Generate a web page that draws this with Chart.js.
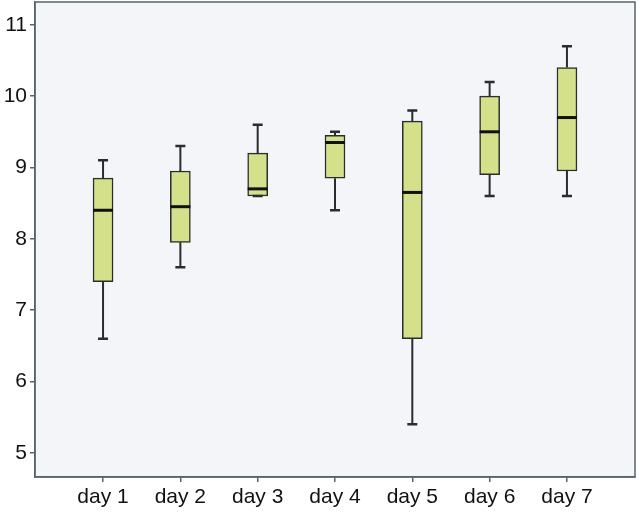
<!DOCTYPE html>
<html>
<head>
<meta charset="utf-8">
<script src="https://cdn.jsdelivr.net/npm/chart.js@4/dist/chart.umd.min.js"></script>
<style>
  html, body { margin: 0; padding: 0; background: #fff; }
  #wrap { width: 644px; height: 512px; }
</style>
</head>
<body>
<div id="wrap"><canvas id="chart" width="644" height="512"></canvas></div>
<script>
// box plot values
const days = ['day 1', 'day 2', 'day 3', 'day 4', 'day 5', 'day 6', 'day 7'];
const whiskerLow = [6.6, 7.6, 8.6, 8.4, 5.4, 8.6, 8.6];
const q1 = [7.4, 7.95, 8.6, 8.85, 6.6, 8.9, 8.95];
const median = [8.4, 8.45, 8.7, 9.35, 8.65, 9.5, 9.7];
const q3 = [8.85, 8.95, 9.2, 9.45, 9.65, 10.0, 10.4];
const whiskerHigh = [9.1, 9.3, 9.6, 9.5, 9.8, 10.2, 10.7];
const yTicks = [5, 6, 7, 8, 9, 10, 11];

const axisColor = '#56656a';
const lineColor = '#2a2d2d';

const boxes = days.map((d, i) => ({ x: i + 1, y: [q1[i], q3[i]] }));

const plotBackground = {
    id: 'plotBackground',
    beforeDraw(chart) {
        const { ctx, chartArea: a } = chart;
        ctx.save();
        ctx.fillStyle = '#f3f5f8';
        ctx.fillRect(a.left, a.top, a.right - a.left, a.bottom - a.top);
        ctx.restore();
    },
    afterDraw(chart) {
        const { ctx, chartArea: a } = chart;
        ctx.save();
        ctx.strokeStyle = axisColor;
        ctx.lineWidth = 1.5;
        ctx.strokeRect(a.left, a.top, a.right - a.left, a.bottom - a.top);
        ctx.restore();
    }
};

// whiskers, caps and medians drawn through the scales
const boxExtras = {
    id: 'boxExtras',
    afterDatasetsDraw(chart) {
        const { ctx, scales: { x, y } } = chart;
        ctx.save();
        days.forEach((d, i) => {
            const cx = x.getPixelForValue(i + 1);
            ctx.strokeStyle = lineColor;
            ctx.lineWidth = 2;
            ctx.beginPath();
            if (whiskerLow[i] < q1[i]) {
                ctx.moveTo(cx, y.getPixelForValue(q1[i]));
                ctx.lineTo(cx, y.getPixelForValue(whiskerLow[i]));
            }
            if (whiskerHigh[i] > q3[i]) {
                ctx.moveTo(cx, y.getPixelForValue(q3[i]));
                ctx.lineTo(cx, y.getPixelForValue(whiskerHigh[i]));
            }
            ctx.stroke();
            ctx.lineWidth = 2.5;
            ctx.beginPath();
            [whiskerLow[i], whiskerHigh[i]].forEach(v => {
                const py = y.getPixelForValue(v);
                ctx.moveTo(cx - 5, py);
                ctx.lineTo(cx + 5, py);
            });
            ctx.stroke();
            ctx.strokeStyle = '#111';
            ctx.lineWidth = 3;
            ctx.beginPath();
            const my = y.getPixelForValue(median[i]);
            ctx.moveTo(cx - 10, my);
            ctx.lineTo(cx + 10, my);
            ctx.stroke();
        });
        ctx.restore();
    }
};

const noPad = s => {
    s.paddingTop = 0; s.paddingBottom = 0;
    s.paddingLeft = 0; s.paddingRight = 0;
};

new Chart(document.getElementById('chart'), {
    type: 'bar',
    data: {
        datasets: [{
            data: boxes,
            backgroundColor: '#d5e08a',
            borderColor: lineColor,
            borderWidth: 1.5,
            borderSkipped: false,
            barThickness: 20
        }]
    },
    options: {
        responsive: false,
        animation: false,
        events: [],
        layout: { padding: { top: 2, right: 9, left: 0, bottom: 0 } },
        plugins: {
            legend: { display: false },
            tooltip: { enabled: false }
        },
        scales: {
            x: {
                type: 'linear',
                min: 0.12,
                max: 7.88,
                offset: false,
                afterBuildTicks: s => { s.ticks = days.map((d, i) => ({ value: i + 1 })); },
                afterFit: s => { s.height = 35; noPad(s); },
                ticks: {
                    callback: v => days[v - 1],
                    color: '#111',
                    font: { family: 'Liberation Sans, Arial, sans-serif', size: 21 },
                    padding: 3,
                    maxRotation: 0
                },
                grid: { offset: false, drawOnChartArea: false, drawTicks: true, tickLength: 5, color: axisColor, lineWidth: 1.5 },
                border: { display: true, color: axisColor, width: 1.5 }
            },
            y: {
                min: 4.66,
                max: 11.32,
                afterBuildTicks: s => { s.ticks = yTicks.map(v => ({ value: v })); },
                afterFit: s => { s.width = 35; noPad(s); },
                ticks: {
                    color: '#111',
                    font: { family: 'Liberation Sans, Arial, sans-serif', size: 21 },
                    padding: 3
                },
                grid: { drawOnChartArea: false, drawTicks: true, tickLength: 5, color: axisColor, lineWidth: 1.5 },
                border: { display: true, color: axisColor, width: 1.5 }
            }
        }
    },
    plugins: [plotBackground, boxExtras]
});
</script>
</body>
</html>
